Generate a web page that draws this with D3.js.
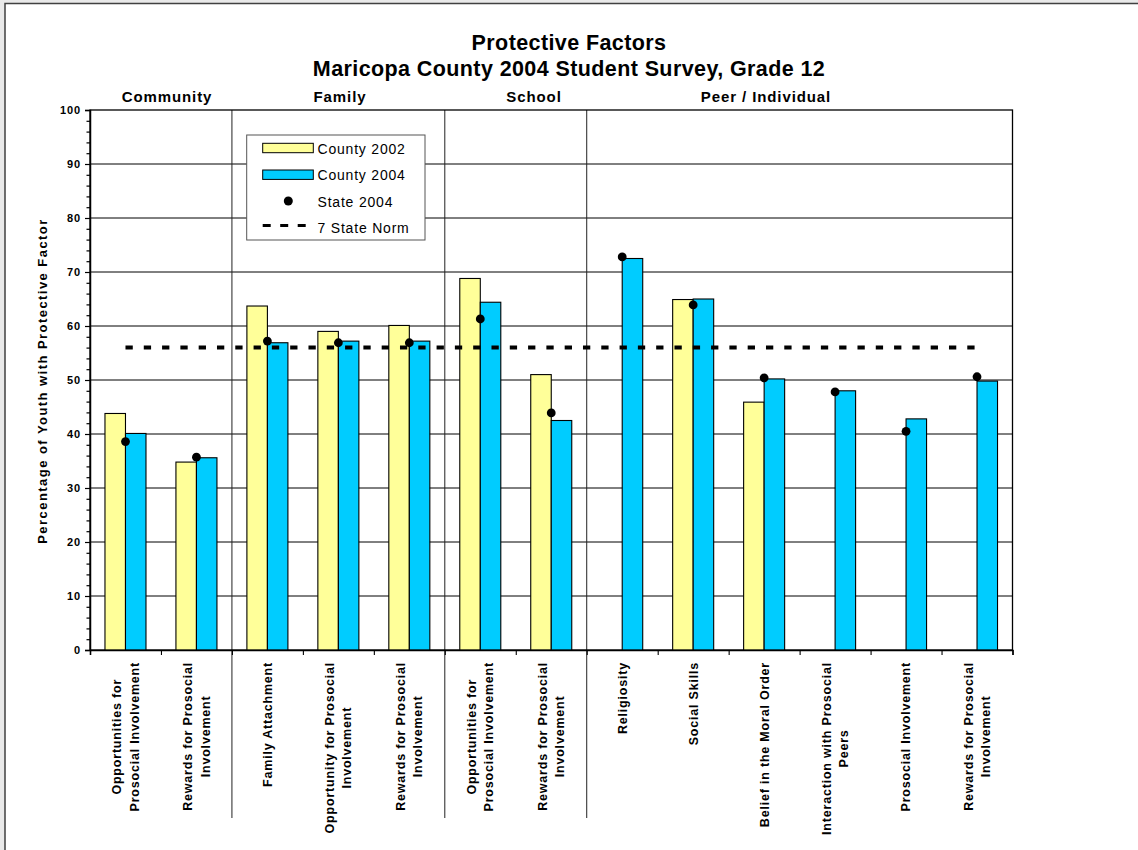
<!DOCTYPE html>
<html><head><meta charset="utf-8">
<script src="https://cdn.jsdelivr.net/npm/d3@7"></script>
<style>
html,body{margin:0;padding:0;background:#fff;}
svg{display:block;font-family:Arial,"Liberation Sans",sans-serif;}
</style></head><body>
<svg id="chart" width="1138" height="850"></svg>
<script>
// ---- data ----
const categories = [
  "Opportunities for\nProsocial Involvement",
  "Rewards for Prosocial\nInvolvement",
  "Family Attachment",
  "Opportunity for Prosocial\nInvolvement",
  "Rewards for Prosocial\nInvolvement",
  "Opportunities for\nProsocial Involvement",
  "Rewards for Prosocial\nInvolvement",
  "Religiosity",
  "Social Skills",
  "Belief in the Moral Order",
  "Interaction with Prosocial\nPeers",
  "Prosocial Involvement",
  "Rewards for Prosocial\nInvolvement"
];
const groups = ["Community", "Family", "School", "Peer / Individual"];
const groupBreaks = [2, 5, 7];
const county2002 = [43.8, 34.8, 63.7, 59.0, 60.1, 68.8, 51.0, null, 64.9, 45.9, null, null, null];
const county2004 = [40.1, 35.6, 56.9, 57.2, 57.2, 64.4, 42.5, 72.5, 65.0, 50.2, 48.0, 42.8, 49.8];
const state2004  = [38.6, 35.7, 57.2, 56.9, 56.9, 61.3, 43.9, 72.8, 63.9, 50.4, 47.8, 40.5, 50.6];
const stateNorm = 56;
const yTicks = [0, 10, 20, 30, 40, 50, 60, 70, 80, 90, 100];
const seriesNames = ["County 2002", "County 2004", "State 2004", "7 State Norm"];
const titleLines = ["Protective Factors", "Maricopa County 2004 Student Survey, Grade 12"];
const yTitle = "Percentage of Youth with Protective Factor";

(function () {
// ---- layout ----
const W = 1138, H = 850;
const pLeft = 90, pRight = 1012.5, pTop = 110, pBottom = 650;
const groupLabelX = [167, 340, 534, 766];
const colors = { c2002: "#FFFF99", c2004: "#00CCFF" };

const svg = d3.select("#chart");
svg.append("rect").attr("width", W).attr("height", H).attr("fill", "#e9e9e9");
svg.append("rect").attr("x", 5).attr("y", 3.5).attr("width", W).attr("height", H)
  .attr("fill", "#fff").attr("stroke", "#404040").attr("stroke-width", 1.5);

const n = categories.length;
const x = d3.scaleBand().domain(d3.range(n)).range([pLeft, pRight]).paddingInner(0.422).paddingOuter(0.211);
const xs = d3.scaleBand().domain(["c2002", "c2004"]).range([0, x.bandwidth()]);
const xb = d3.scaleLinear().domain([0, n]).range([pLeft, pRight]);
const y = d3.scaleLinear().domain([0, 100]).range([pBottom, pTop]);
const cx = i => x(i) + x.bandwidth() / 2;

// gridlines
svg.append("g").selectAll("line").data(yTicks.filter(v => v > 0 && v < 100)).join("line")
  .attr("x1", pLeft).attr("x2", pRight).attr("y1", d => y(d)).attr("y2", d => y(d))
  .attr("stroke", "#000").attr("stroke-width", 1);

// group separators
svg.append("g").selectAll("line").data(groupBreaks).join("line")
  .attr("x1", d => xb(d)).attr("x2", d => xb(d)).attr("y1", pTop).attr("y2", 818)
  .attr("stroke", "#222").attr("stroke-width", 1);

// plot frame
svg.append("rect").attr("x", pLeft).attr("y", pTop).attr("width", pRight - pLeft).attr("height", pBottom - pTop)
  .attr("fill", "none").attr("stroke", "#000").attr("stroke-width", 1.3);

// legend
const lg = svg.append("g");
lg.append("rect").attr("x", 246.7).attr("y", 135).attr("width", 178.3).attr("height", 105)
  .attr("fill", "#fff").attr("stroke", "#555").attr("stroke-width", 1);
lg.append("rect").attr("x", 262.7).attr("y", 143.3).attr("width", 50.6).attr("height", 9.4)
  .attr("fill", colors.c2002).attr("stroke", "#000").attr("stroke-width", 1);
lg.append("rect").attr("x", 262.7).attr("y", 170).attr("width", 50.6).attr("height", 9.4)
  .attr("fill", colors.c2004).attr("stroke", "#000").attr("stroke-width", 1);
lg.append("circle").attr("cx", 288.3).attr("cy", 201).attr("r", 4.5).attr("fill", "#000");
lg.append("line").attr("x1", 262.7).attr("x2", 306.7).attr("y1", 225.5).attr("y2", 225.5)
  .attr("stroke", "#000").attr("stroke-width", 3.2).attr("stroke-dasharray", "8,9.5");
lg.selectAll("text").data(seriesNames).join("text")
  .attr("x", 317.5).attr("y", (d, i) => 153.5 + i * 26.5)
  .attr("font-size", 14).style("letter-spacing", "0.8px").attr("fill", "#000").text(d => d);

// bars
const bars = svg.append("g");
bars.selectAll("rect.c2002").data(county2002.map((v, i) => ({ v, i })).filter(d => d.v != null)).join("rect")
  .attr("class", "c2002")
  .attr("x", d => x(d.i) + xs("c2002")).attr("width", xs.bandwidth())
  .attr("y", d => y(d.v)).attr("height", d => y(0) - y(d.v))
  .attr("fill", colors.c2002).attr("stroke", "#000").attr("stroke-width", 1.1);
bars.selectAll("rect.c2004").data(county2004.map((v, i) => ({ v, i })).filter(d => d.v != null)).join("rect")
  .attr("class", "c2004")
  .attr("x", d => x(d.i) + xs("c2004")).attr("width", xs.bandwidth())
  .attr("y", d => y(d.v)).attr("height", d => y(0) - y(d.v))
  .attr("fill", colors.c2004).attr("stroke", "#000").attr("stroke-width", 1.1);

// state norm dashed line
svg.append("line").attr("x1", cx(0)).attr("x2", cx(n - 1)).attr("y1", y(stateNorm)).attr("y2", y(stateNorm))
  .attr("stroke", "#000").attr("stroke-width", 4).attr("stroke-dasharray", "7.3,11");

// state dots
svg.append("g").selectAll("circle").data(state2004.map((v, i) => ({ v, i })).filter(d => d.v != null)).join("circle")
  .attr("cx", d => cx(d.i)).attr("cy", d => y(d.v)).attr("r", 4.4).attr("fill", "#000");

// y axis
const yAxis = svg.append("g").attr("transform", `translate(${pLeft},0)`)
  .call(d3.axisLeft(y).tickValues(yTicks).tickSize(5).tickFormat(d3.format("d")));
yAxis.select(".domain").attr("stroke", "#000").attr("stroke-width", 1.5);
yAxis.selectAll(".tick line").attr("stroke", "#000").attr("stroke-width", 1.2);
yAxis.selectAll(".tick text").attr("x", -9).attr("font-size", 11).attr("font-weight", "bold")
  .style("letter-spacing", "0.9px").attr("font-family", "Arial, 'Liberation Sans', sans-serif").attr("fill", "#000");
const yMinor = svg.append("g").attr("transform", `translate(${pLeft},0)`)
  .call(d3.axisLeft(y).tickValues(d3.range(0, 101, 2).filter(v => v % 10 !== 0)).tickSize(3.5).tickFormat(""));
yMinor.select(".domain").remove();
yMinor.selectAll(".tick line").attr("stroke", "#000").attr("stroke-width", 1.2);

// x axis ticks
const xAxis = svg.append("g").attr("transform", `translate(0,${pBottom})`)
  .call(d3.axisBottom(xb).tickValues(d3.range(n + 1)).tickSize(5).tickFormat(""));
xAxis.select(".domain").attr("stroke", "#000").attr("stroke-width", 1.5);
xAxis.selectAll(".tick line").attr("stroke", "#000").attr("stroke-width", 1.1);

// x labels (rotated, multi-line)
const labelFont = 12.5, lineGap = 17.5, labelTop = 662;
const xl = svg.append("g");
categories.forEach((lab, i) => {
  const lines = lab.split("\n");
  const t = xl.append("text").attr("font-size", labelFont).attr("font-weight", "bold")
    .style("letter-spacing", "0.8px").attr("text-anchor", "middle").attr("fill", "#000");
  lines.forEach((ln, j) => {
    t.append("tspan").attr("x", 0).attr("y", (j - (lines.length - 1) / 2) * lineGap + labelFont * 0.35).text(ln);
  });
  let maxLen = 0;
  t.selectAll("tspan").each(function () { maxLen = Math.max(maxLen, this.getComputedTextLength()); });
  t.attr("transform", `translate(${cx(i)},${labelTop + maxLen / 2}) rotate(-90)`);
});

// titles
svg.append("g").selectAll("text").data(titleLines).join("text")
  .attr("x", W / 2).attr("y", (d, i) => 49.5 + i * 26.5)
  .attr("text-anchor", "middle").attr("font-size", 21.5).attr("font-weight", "bold")
  .style("letter-spacing", "0.4px").attr("fill", "#000")
  .text(d => d);

// group labels
svg.append("g").selectAll("text").data(groups).join("text")
  .attr("x", (d, i) => groupLabelX[i]).attr("y", 101.5)
  .attr("text-anchor", "middle").attr("font-size", 15).attr("font-weight", "bold")
  .style("letter-spacing", "0.9px").attr("fill", "#000")
  .text(d => d);

// y title
svg.append("text").attr("transform", `translate(${42 + 4.5},381) rotate(-90)`)
  .attr("text-anchor", "middle").attr("font-size", 13).attr("font-weight", "bold")
  .style("letter-spacing", "1.45px").attr("fill", "#000").text(yTitle);
})();
</script>
</body></html>
